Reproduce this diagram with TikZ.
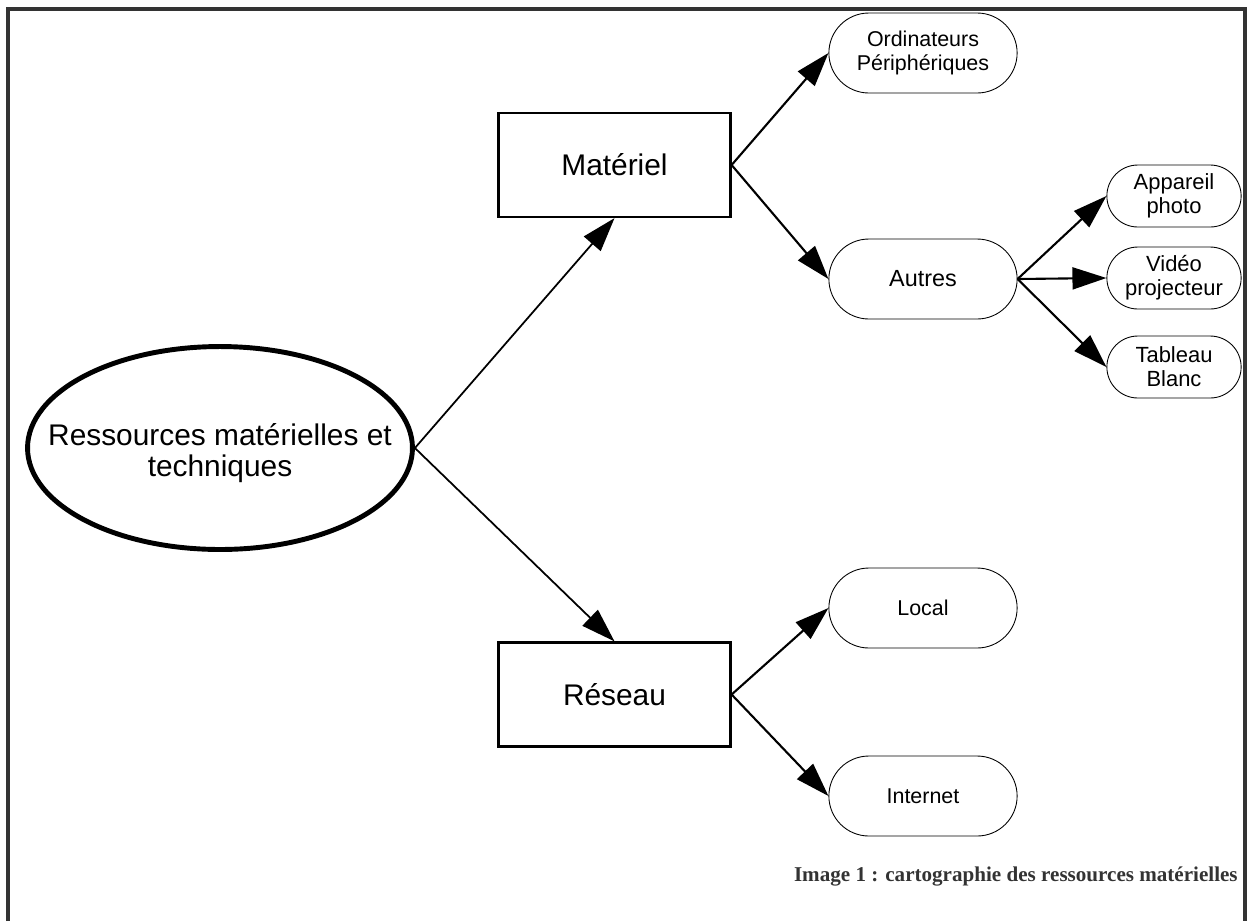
\documentclass[tikz,border=0pt]{standalone}
\usepackage{fontspec}
\setmainfont{Liberation Sans}
\newfontfamily\capfont{Liberation Serif}
\usetikzlibrary{shapes.geometric,shapes.misc,arrows.meta}
\definecolor{cadre}{HTML}{333333}

\begin{document}
\begin{tikzpicture}[x=0.02cm,y=-0.02cm,
  bigfont/.style={font=\fontsize{17}{17.5}\selectfont},
  root/.style={ellipse,draw,line width=2.8pt,minimum width=7.7cm,minimum height=4.06cm,inner sep=0pt},
  box/.style={rectangle,draw,line width=1.3pt,minimum width=4.64cm,minimum height=2.08cm,bigfont},
  leaf/.style={rounded rectangle,draw,line width=0.5pt,minimum width=4cm,minimum height=1.6cm,align=center,font=\fontsize{12.2}{13.7}\selectfont},
  tip/.style={leaf,minimum width=2.92cm,minimum height=1.24cm,font=\fontsize{12.5}{13.7}\selectfont},
  arr/.style={-{Triangle[length=0.68cm,width=0.44cm]},line width=1.2pt}]
\useasboundingbox (0,0) rectangle (1248,921);
\draw[line width=2pt,color=cadre] (8,921) -- (8,9) -- (1245,9) -- (1245,921);

\node[root,label={[bigfont,align=center,yshift=-0.1cm]center:Ressources matérielles et\\techniques}] (res) at (220,448) {};
\node[box] (mat) at (614.5,165) {Matériel};
\node[box] (net) at (614.5,694.5) {Réseau};

\node[leaf] (ordi) at (923,53) {Ordinateurs\\Périphériques};
\node[leaf,font=\fontsize{13.3}{14}\selectfont] (autres) at (923,279) {Autres};
\node[leaf] (local) at (923,608) {Local};
\node[leaf] (web) at (923,796) {Internet};

\node[tip] (photo) at (1174,196) {Appareil\\photo};
\node[tip] (video) at (1174,278) {Vidéo\\projecteur};
\node[tip] (tableau) at (1174,367) {Tableau\\Blanc};

\draw[arr,line width=1pt] (res.east) -- (mat.south);
\draw[arr,line width=1pt] (res.east) -- (net.north);
\draw[arr] (mat.east) -- (ordi.west);
\draw[arr] (mat.east) -- (autres.west);
\draw[arr] (autres.east) -- (photo.west);
\draw[arr] (autres.east) -- (video.west);
\draw[arr] (autres.east) -- (tableau.west);
\draw[arr] (net.east) -- (local.west);
\draw[arr] (net.east) -- (web.west);

\node[anchor=east,inner sep=0pt,text=cadre,font=\capfont\bfseries\fontsize{12}{14}\selectfont] (legende) at (1238,876) {Image 1 : cartographie des ressources matérielles};
\end{tikzpicture}
\end{document}
